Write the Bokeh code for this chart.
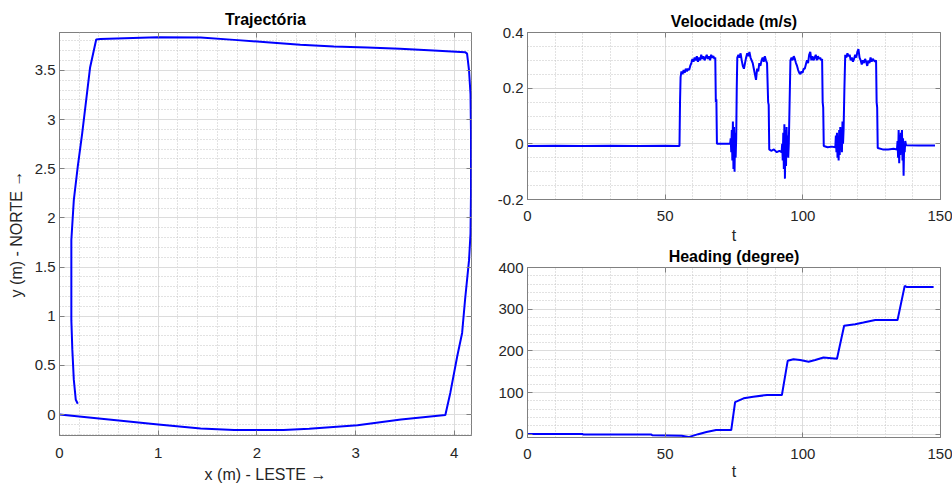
import numpy as np
from bokeh.plotting import figure
from bokeh.layouts import row, column
from bokeh.models import Range1d, FixedTicker, LinearAxis, CustomJSTickFormatter
from bokeh.embed import file_html
from bokeh.resources import INLINE

# ---------------- data ----------------
traj_x = [0, 0.5, 1.0, 1.43, 1.77, 2.27, 2.53, 3.02, 3.46, 3.91, 3.96, 4.03, 4.08, 4.11, 4.15,
          4.165, 4.17, 4.17, 4.165, 4.15, 4.13, 4.11, 3.79, 3.45, 3.12, 2.78, 2.44, 2.10, 1.77,
          1.43, 0.99, 0.415, 0.372, 0.31, 0.23, 0.185, 0.145, 0.12, 0.12, 0.12, 0.13, 0.145,
          0.165, 0.185]
traj_y = [0, -0.05, -0.10, -0.143, -0.156, -0.156, -0.145, -0.108, -0.05, -0.005, 0.22, 0.59,
          0.83, 1.17, 1.57, 1.84, 2.25, 2.86, 3.26, 3.5, 3.67, 3.685, 3.702, 3.719, 3.732, 3.742,
          3.76, 3.786, 3.81, 3.834, 3.837, 3.82, 3.813, 3.53, 2.86, 2.52, 2.18, 1.775, 1.57,
          0.96, 0.66, 0.355, 0.15, 0.11]

vel_t = [0, 10, 20, 30, 40, 50, 55.2, 55.4, 55.6, 55.9, 56.3, 56.7, 57.1, 57.5, 57.9, 58.3,
         58.7, 59.1, 59.5, 59.9, 60.3, 60.7, 61.1, 61.5, 61.9, 62.3, 62.7, 63.1, 63.5, 63.9,
         64.3, 64.7, 65.1, 65.5, 65.9, 66.3, 66.7, 67.1, 67.5, 67.9, 68.2, 68.4, 68.6, 68.8,
         73.6, 73.8, 74.0, 74.2, 74.4, 74.6, 74.8, 75.0, 75.2, 75.4, 75.6, 75.8, 76.0, 76.2,
         76.6, 77.0, 77.4, 77.8, 78.2, 78.6, 79.0, 79.4, 79.8, 80.2, 80.6, 81.0, 81.4, 81.8,
         82.2, 82.6, 83.0, 83.4, 83.8, 84.2, 84.6, 85.0, 85.4, 85.8, 86.2, 86.6, 87.0, 87.4,
         87.6, 87.8, 88.5, 89.5, 90.5, 91.5, 92.3, 92.5, 92.7, 92.9, 93.1, 93.3, 93.5, 93.7,
         93.9, 94.1, 94.3, 94.5, 94.7, 94.9, 95.2, 95.5, 95.9, 96.3, 96.7, 97.1, 97.5, 97.9,
         98.3, 98.7, 99.1, 99.5, 99.9, 100.3, 100.7, 101.1, 101.5, 101.9, 102.3, 102.7, 103.1,
         103.5, 103.9, 104.3, 104.7, 105.1, 105.5, 105.9, 106.3, 106.7, 107.0, 107.2, 107.4,
         107.6, 109.0, 110.5, 111.8, 112.0, 112.2, 112.4, 112.6, 112.8, 113.0, 113.2, 113.4,
         113.6, 113.8, 114.0, 114.2, 114.4, 114.6, 114.8, 115.1, 115.4, 115.8, 116.2, 116.6,
         117.0, 117.4, 117.8, 118.2, 118.6, 119.0, 119.4, 119.8, 120.2, 120.6, 121.0, 121.4,
         121.8, 122.2, 122.6, 123.0, 123.4, 123.8, 124.2, 124.6, 125.0, 125.4, 125.8, 126.2,
         126.6, 126.8, 127.0, 127.2, 129.0, 131.0, 133.0, 134.2, 134.4, 134.6, 134.8, 135.0,
         135.2, 135.4, 135.6, 135.8, 136.0, 136.2, 136.4, 136.6, 136.8, 137.0, 137.2, 137.5,
         142.0, 148.0]
vel_v = [-0.008, -0.007, -0.008, -0.007, -0.008, -0.007, -0.008, 0.15, 0.24, 0.26, 0.25,
         0.265, 0.255, 0.27, 0.26, 0.27, 0.265, 0.28, 0.29, 0.305, 0.295, 0.31, 0.30, 0.315,
         0.295, 0.31, 0.30, 0.32, 0.305, 0.315, 0.30, 0.31, 0.32, 0.305, 0.315, 0.30, 0.32,
         0.31, 0.315, 0.305, 0.31, 0.15, 0.16, 0.0,
         0.0, 0.02, -0.03, 0.05, -0.06, 0.08, -0.09, 0.06, -0.10, 0.04, -0.05, 0.02, 0.2, 0.31,
         0.32, 0.31, 0.325, 0.30, 0.28, 0.27, 0.29, 0.31, 0.325, 0.315, 0.33, 0.31, 0.30, 0.29,
         0.27, 0.25, 0.23, 0.27, 0.26, 0.29, 0.28, 0.30, 0.31, 0.295, 0.315, 0.30, 0.29, 0.15,
         0.14, -0.02, -0.025, -0.02, -0.03, -0.025, -0.03, 0.0, -0.06, 0.04, -0.09, 0.07, -0.125,
         0.05, -0.08, 0.06, -0.04, 0.03, -0.05, 0.0, 0.15, 0.30, 0.31, 0.30, 0.315, 0.305,
         0.29, 0.28, 0.265, 0.255, 0.25, 0.26, 0.255, 0.27, 0.27, 0.285, 0.30, 0.29, 0.32, 0.33,
         0.30, 0.315, 0.30, 0.31, 0.32, 0.30, 0.315, 0.305, 0.31, 0.30, 0.305, 0.15, 0.13,
         -0.008, -0.012, -0.01, -0.012, 0.03, -0.03, 0.04, -0.05, 0.02, -0.06, 0.05, -0.04,
         0.06, -0.02, 0.04, -0.03, 0.08, 0.0, 0.05, 0.2, 0.32, 0.31, 0.325, 0.315, 0.32, 0.30,
         0.31, 0.295, 0.305, 0.32, 0.31, 0.33, 0.34, 0.31, 0.30, 0.285, 0.30, 0.29, 0.305,
         0.295, 0.28, 0.30, 0.29, 0.31, 0.295, 0.305, 0.30, 0.295, 0.30, 0.15, 0.13, -0.015,
         -0.02, -0.02, -0.018, -0.02, 0.01, -0.05, 0.05, -0.07, 0.03, -0.04, 0.04, -0.02, 0.05,
         -0.06, 0.02, -0.115, 0.0, -0.03, 0.01, -0.005, -0.006, -0.006]

head_t = [0, 20, 20.3, 45, 45.3, 56, 58.5, 62, 65, 68.5, 74, 75.4, 78.5, 82, 87, 92.4, 94.5,
          96.6, 99, 102.1, 104.5, 107.5, 112.4, 115, 119, 122, 126.3, 134.4, 137, 137.8, 147.5]
head_h = [0.5, 0.5, -1, -1, -2.5, -4, -7, 0, 5, 10, 10, 77, 86, 90, 94, 94, 176, 180, 178,
          174, 178, 184, 181, 260, 264, 268, 274, 274, 356, 353, 353]

traj_xticks = [0, 1, 2, 3, 4]
traj_yticks = [0, 0.5, 1, 1.5, 2, 2.5, 3, 3.5]
vel_xticks = [0, 50, 100, 150]
vel_yticks = [-0.2, 0, 0.2, 0.4]
head_yticks = [0, 100, 200, 300, 400]

FONT = "Liberation Sans"
TXT = "#262626"
AX = "#808080"
BLUE = "#0000ff"

fmt_code = "return (Math.round(tick*1000)/1000).toString();"


def style(p, xt, xminor, yt, yminor, title_standoff):
    p.background_fill_color = "white"
    p.border_fill_color = "white"
    p.outline_line_color = AX
    p.outline_line_width = 1
    p.title.align = "center"
    p.title.text_font = FONT
    p.title.text_font_size = "16px"
    p.title.text_font_style = "bold"
    p.title.text_color = "#000000"
    p.title.standoff = title_standoff
    xtk = FixedTicker(ticks=xt, minor_ticks=list(xminor))
    ytk = FixedTicker(ticks=yt, minor_ticks=list(yminor))
    xa = p.below[0]
    ya = p.left[0]
    for ax, tk in ((xa, xtk), (ya, ytk)):
        ax.ticker = tk
        ax.formatter = CustomJSTickFormatter(code=fmt_code)
        ax.axis_line_color = AX
        ax.major_tick_line_color = AX
        ax.major_tick_in = 5
        ax.major_tick_out = 0
        ax.minor_tick_line_color = None
        ax.major_label_text_font = FONT
        ax.major_label_text_font_size = "15px"
        ax.major_label_text_color = TXT
        ax.axis_label_text_font = FONT
        ax.axis_label_text_font_size = "16px"
        ax.axis_label_text_font_style = "normal"
        ax.axis_label_text_color = TXT
    ya.major_label_standoff = 0
    for g in (p.xgrid[0], p.ygrid[0]):
        g.grid_line_color = "#dcdcdc"
        g.grid_line_width = 1
        g.minor_grid_line_color = "#c4c4c4"
        g.minor_grid_line_dash = "1 2"
        g.minor_grid_line_width = 1
    p.xgrid[0].ticker = xtk
    p.ygrid[0].ticker = ytk
    # box ticks on top / right
    for loc, tk in (("above", xtk), ("right", ytk)):
        a = LinearAxis(ticker=tk, formatter=CustomJSTickFormatter(code="return '';"))
        a.axis_line_color = None
        a.major_tick_line_color = AX
        a.major_tick_in = 5
        a.major_tick_out = 0
        a.minor_tick_line_color = None
        a.major_label_text_font_size = "0px"
        a.major_label_standoff = 0
        a.axis_label = None
        p.add_layout(a, loc)
    return xa, ya


# ---------------- left: trajectory ----------------
p1 = figure(width=480, height=485, output_backend="svg", toolbar_location=None,
            x_range=Range1d(0, 4.175), y_range=Range1d(-0.213, 3.885), title="Trajectória",
            min_border_left=59, min_border_right=9, min_border_top=32, min_border_bottom=49)
xa1, ya1 = style(p1, traj_xticks, np.arange(0, 4.21, 0.2).round(2), traj_yticks,
                 np.arange(-0.2, 3.85, 0.1).round(2), 1)
xa1.axis_label = "x (m) - LESTE \u2192"
ya1.axis_label = "y (m) - NORTE \u2192"
xa1.major_label_standoff = 8
xa1.axis_label_standoff = 5
ya1.axis_label_standoff = 7
p1.line(traj_x, traj_y, line_color=BLUE, line_width=2)

# ---------------- top right: velocity ----------------
p2 = figure(width=472, height=246, output_backend="svg", toolbar_location=None,
            x_range=Range1d(0, 150), y_range=Range1d(-0.2, 0.4), title="Velocidade (m/s)",
            min_border_left=47, min_border_right=12, min_border_top=32, min_border_bottom=46)
xa2, ya2 = style(p2, vel_xticks, np.arange(0, 151, 10), vel_yticks,
                 np.arange(-0.2, 0.41, 0.05).round(3), -2)
xa2.axis_label = "t"
xa2.major_label_standoff = 7
xa2.axis_label_standoff = 3
p2.line(vel_t, vel_v, line_color=BLUE, line_width=2)

# ---------------- bottom right: heading ----------------
p3 = figure(width=472, height=239, output_backend="svg", toolbar_location=None,
            x_range=Range1d(0, 150), y_range=Range1d(-8, 400), title="Heading (degree)",
            min_border_left=47, min_border_right=12, min_border_top=21, min_border_bottom=48)
xa3, ya3 = style(p3, vel_xticks, np.arange(0, 151, 10), head_yticks, np.arange(0, 401, 20), -3)
xa3.axis_label = "t"
xa3.major_label_standoff = 7
xa3.axis_label_standoff = 1
p3.line(head_t, head_h, line_color=BLUE, line_width=2)

layout = row(p1, column(p2, p3))
open("out.html", "w").write(file_html(layout, INLINE))
